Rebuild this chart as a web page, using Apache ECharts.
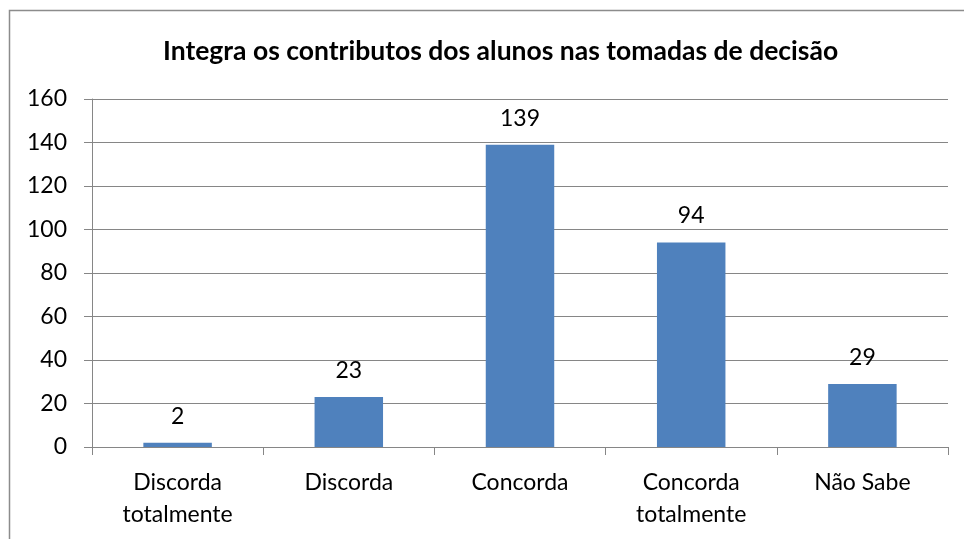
<!DOCTYPE html>
<html>
<head>
<meta charset="UTF-8">
<title>Integra os contributos dos alunos nas tomadas de decisão</title>
<script type="text/javascript" src="https://cdn.jsdelivr.net/npm/echarts@6/dist/echarts.min.js"></script>
<style>
html,body{margin:0;padding:0;background:#fff;}
</style>
</head>
<body>
<div id="main" style="width:964px;height:539px;"></div>

<script type="text/javascript">
// dados do gráfico
var categorias = ['Discorda\ntotalmente', 'Discorda', 'Concorda', 'Concorda\ntotalmente', 'Não Sabe'];
var respostas = [2, 23, 139, 94, 29];
var yTicks = [0, 20, 40, 60, 80, 100, 120, 140, 160];

var mychart = echarts.init(document.getElementById('main'));
var fonte = 'Lato';
var cinza = '#868686';

var option = {
    animation: false,
    // moldura do gráfico
    graphic: [{
        type: 'rect',
        shape: { x: 9.5, y: 10.5, width: 1000, height: 600 },
        style: { fill: 'none', stroke: '#8c8c8c', lineWidth: 1.5 },
        silent: true
    }],
    title: {
        text: 'Integra os contributos dos alunos nas tomadas de decisão',
        left: 158,
        top: 33,
        textStyle: { fontFamily: fonte, fontSize: 26.5, fontWeight: 'bold', color: '#000' }
    },
    grid: { left: 92, right: 16, top: 99, bottom: 92 },
    xAxis: {
        type: 'category',
        data: categorias,
        axisLine: { lineStyle: { color: cinza, width: 1 } },
        axisTick: { show: true, length: 8, lineStyle: { color: cinza } },
        axisLabel: {
            fontFamily: fonte, fontSize: 23, color: '#000',
            margin: 20, lineHeight: 32, interval: 0
        }
    },
    yAxis: {
        type: 'value',
        min: yTicks[0],
        max: yTicks[yTicks.length - 1],
        interval: 20,
        axisLine: { show: true, lineStyle: { color: cinza, width: 1 } },
        axisTick: { show: true, length: 8, lineStyle: { color: cinza } },
        splitLine: { lineStyle: { color: cinza, width: 1 } },
        axisLabel: { fontFamily: fonte, fontSize: 23, color: '#000', margin: 25 }
    },
    series: [{
        name: 'Respostas',
        type: 'bar',
        data: respostas,
        barWidth: '40%',
        itemStyle: { color: '#4f81bd' },
        label: {
            show: true,
            position: 'top',
            distance: 15,
            fontFamily: fonte,
            fontSize: 23,
            color: '#000'
        }
    }]
};

mychart.setOption(option);
</script>
</body>
</html>
